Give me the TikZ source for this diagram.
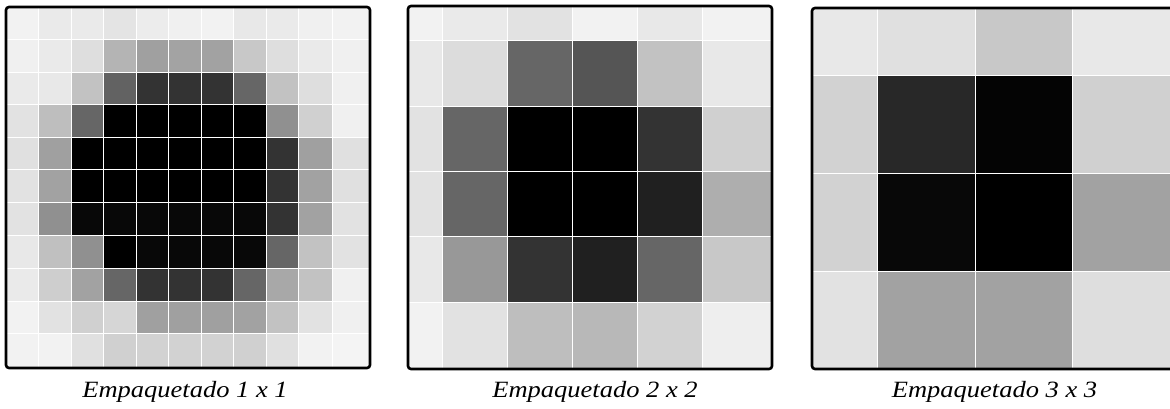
\documentclass[tikz,border=0pt]{standalone}
\usepackage{fontspec}
\setmainfont{Liberation Serif}
\tikzset{
  cellbox/.style={draw=white, line width=1pt},
  frame/.style={draw=black, line width=2.6pt, rounded corners=3pt},
  caption/.style={font=\fontsize{26.5}{30}\selectfont\itshape, anchor=base, inner sep=0pt}
}
\newcommand\drawpanel[3]{%
  \foreach \rowvals [count=\r from 0] in {#3} {
    \foreach \v [count=\c from 0] in \rowvals {
      \pgfmathsetmacro\xa{{#1}[\c]}
      \pgfmathsetmacro\xb{{#1}[\c+1]}
      \pgfmathsetmacro\ya{{#2}[\r]}
      \pgfmathsetmacro\yb{{#2}[\r+1]}
      \definecolor{cc}{RGB}{\v,\v,\v}
      \filldraw[cellbox, fill=cc] (\xa,\ya) rectangle (\xb,\yb);
    }
  }
}
\begin{document}
\begin{tikzpicture}[x=1pt,y=-1pt]
\useasboundingbox (0,0) rectangle (1170,408);
\clip (0,0) rectangle (1170,408);
% Panel 1
\drawpanel{6,38,71,103,136,168,201,233,266,298,332,370}{7,39,72,104,137,169,202,235,268,301,333,368}{
{242,234,234,228,236,240,242,232,234,240,242},
{240,234,222,180,160,163,162,200,222,234,240},
{234,232,194,98,51,51,51,102,194,222,240},
{226,190,102,0,0,0,0,0,144,208,240},
{224,160,0,0,0,0,0,0,51,160,224},
{226,162,0,0,0,0,0,0,51,162,224},
{226,144,8,8,8,8,8,8,51,162,226},
{232,192,144,0,8,8,8,8,102,194,226},
{234,206,162,102,51,51,51,102,168,194,240},
{242,226,208,214,160,160,160,162,194,226,240},
{242,242,224,208,210,210,210,208,224,242,244}}
\draw[frame] (6,7) rectangle (370,368);
% Panel 2
\drawpanel{408,442,507,572,637,702,772}{6,40,106,171,236,302,369}{
{242,234,226,242,232,242},
{232,220,102,85,194,232},
{226,102,0,0,51,208},
{226,102,0,0,32,174},
{232,152,51,32,102,200},
{242,226,190,184,210,238}}
\draw[frame] (408,6) rectangle (772,369);
% Panel 3
\drawpanel{812,877,975,1072,1180}{8,75,173,271,369}{
{232,224,200,232},
{210,40,4,208},
{210,8,0,162},
{226,162,162,222}}
\draw[frame] (812,8) rectangle (1190,369);
% Captions
\node[caption] (cap1) at (185,397) {\scalebox{1}[0.88]{Empaquetado 1 x 1}};
\node[caption] (cap2) at (595,397) {\scalebox{1}[0.88]{Empaquetado 2 x 2}};
\node[caption] (cap3) at (994.5,397) {\scalebox{1}[0.88]{Empaquetado 3 x 3}};
\end{tikzpicture}
\end{document}
